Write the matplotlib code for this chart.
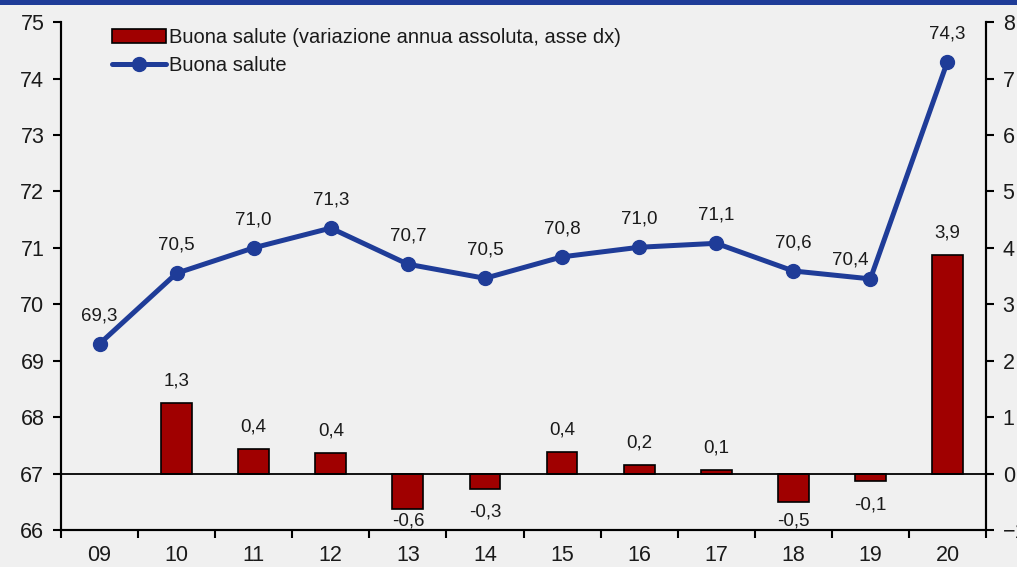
import matplotlib
matplotlib.use("Agg")
import matplotlib.pyplot as plt
import numpy as np
from matplotlib.patches import Rectangle

categories = ["09", "10", "11", "12", "13", "14", "15", "16", "17", "18", "19", "20"]
good_health = [69.3, 70.55, 71.0, 71.35, 70.71, 70.46, 70.84, 71.01, 71.08, 70.59, 70.45, 74.3]
annual_change = [np.nan, 1.25, 0.43, 0.36, -0.63, -0.27, 0.38, 0.16, 0.06, -0.51, -0.14, 3.87]
line_labels = ["69,3", "70,5", "71,0", "71,3", "70,7", "70,5", "70,8", "71,0", "71,1", "70,6", "70,4", "74,3"]
bar_labels = ["", "1,3", "0,4", "0,4", "-0,6", "-0,3", "0,4", "0,2", "0,1", "-0,5", "-0,1", "3,9"]

plt.rcParams['font.family'] = ['Liberation Sans', 'DejaVu Sans']

BG = "#f0f0f0"
BLUE = "#1f3c98"
RED = "#a00000"
TXT = "#1a1a1a"

fig = plt.figure(figsize=(10.17, 5.67), dpi=100, facecolor=BG)
ax = fig.add_axes([0.060, 0.0653, 0.9095, 0.8957])
ax2 = ax.twinx()

x = np.arange(len(categories))

# bars on right axis
bars = ax2.bar(x, annual_change, width=0.4, color=RED, edgecolor="black", linewidth=1.2, zorder=2)
ax2.axhline(0, color="black", linewidth=1.3, zorder=3)
ax2.set_ylim(-1, 8)
ax2.set_yticks(range(-1, 9))

for xi, v, lab in zip(x, annual_change, bar_labels):
    if np.isnan(v):
        continue
    if v >= 0:
        y = v + 0.39
    else:
        y = max(v - 0.42, -0.84)
    ax2.text(xi, y, lab, ha="center", va="center", fontsize=13.5, color=TXT, zorder=4)

ax.set_ylim(66, 75)
ax.set_yticks(range(66, 76))
ax.set_xlim(-0.5, len(categories) - 0.5)
ax.set_zorder(ax2.get_zorder() + 1)
ax.patch.set_visible(False)
ax2.patch.set_facecolor(BG)

line, = ax.plot(x, good_health, color=BLUE, linewidth=3.6, marker="o", markersize=10,
                zorder=5, solid_capstyle="round")
# label offsets (pixels) – Excel nudges the "19" label left to avoid the line
label_dx = {10: -20}
label_dy = {10: 19}
for i, (xi, v, lab) in enumerate(zip(x, good_health, line_labels)):
    dx = label_dx.get(i, 0)
    dy = label_dy.get(i, 28)
    ax.annotate(lab, (xi, v), xytext=(dx, dy), textcoords="offset pixels",
                ha="center", va="center", fontsize=13.5, color=TXT)

# x ticks at boundaries, labels at centers
ax.set_xticks(np.arange(-0.5, len(categories)), minor=False)
ax.set_xticklabels([])
ax.set_xticks(x, minor=True)
ax.set_xticklabels(categories, minor=True, fontsize=15.5, color=TXT)
ax.tick_params(axis="x", which="major", direction="out", length=6, width=1.5)
ax.tick_params(axis="x", which="minor", length=0, pad=11)
ax.tick_params(axis="y", direction="out", length=6, width=1.5, labelsize=15.5, pad=6, labelcolor=TXT)
ax2.tick_params(axis="y", direction="out", length=6, width=1.5, labelsize=15.5, pad=6, labelcolor=TXT)

for a in (ax, ax2):
    a.spines["top"].set_visible(False)
    for s in ("left", "right", "bottom"):
        a.spines[s].set_linewidth(1.5)
        a.spines[s].set_color("black")

# legend
handles = [bars, line]
labels = ["Buona salute (variazione annua assoluta, asse dx)", "Buona salute"]
leg = ax.legend(handles, labels, loc="upper left", bbox_to_anchor=(0.0465, 1.004), frameon=False,
                fontsize=14.5, handlelength=2.7, handletextpad=0.15, labelspacing=0.45,
                borderaxespad=0)
for t in leg.get_texts():
    t.set_color(TXT)

# top navy band
fig.patches.append(Rectangle((0, 1 - 5 / 567), 1, 5 / 567, transform=fig.transFigure,
                             facecolor=BLUE, edgecolor="none", zorder=10))

fig.savefig("out.png", dpi=100, facecolor=BG)
